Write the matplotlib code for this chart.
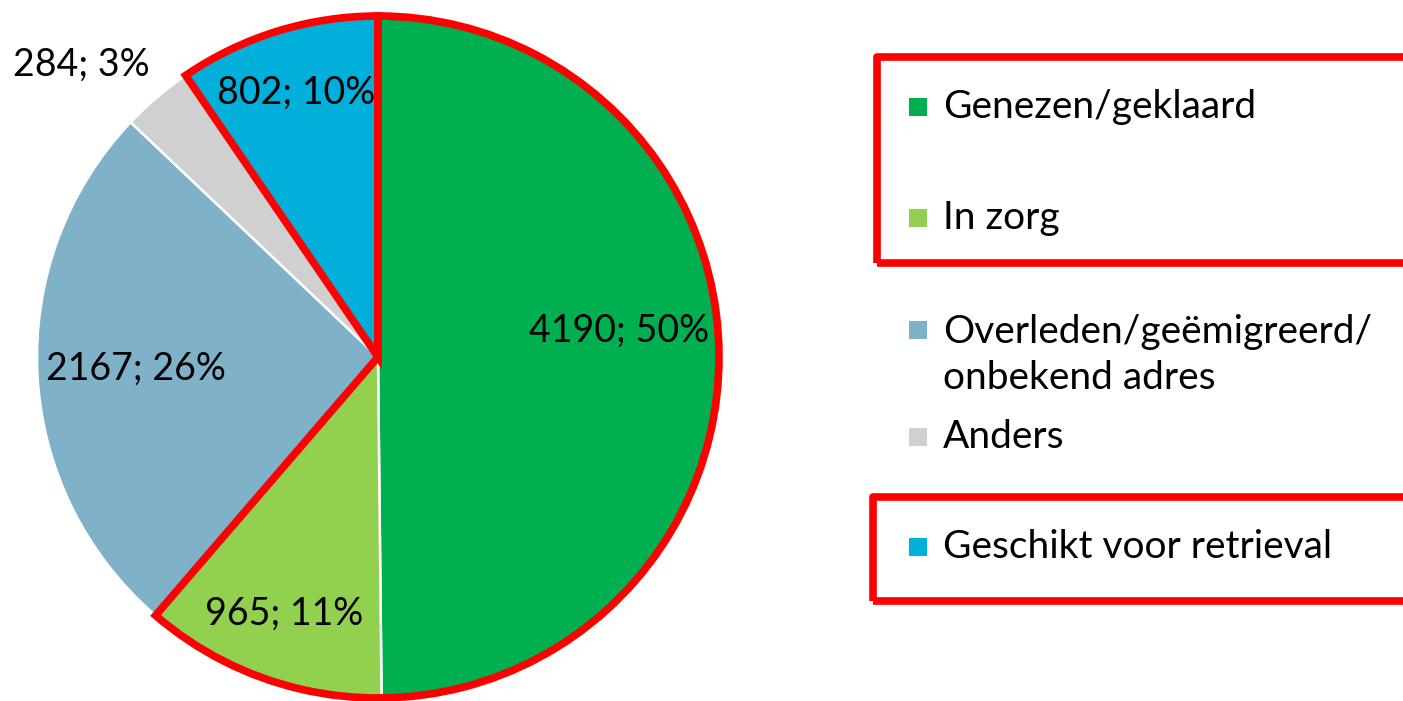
import matplotlib
matplotlib.use("Agg")
import matplotlib.pyplot as plt
from matplotlib.patches import Wedge, Rectangle
import numpy as np

plt.rcParams['font.family'] = ['Lato', 'DejaVu Sans']

# data
categorieen = ["Genezen/geklaard", "In zorg", "Overleden/geëmigreerd/\nonbekend adres",
               "Anders", "Geschikt voor retrieval"]
aantallen = [4190, 965, 2167, 284, 802]
percentages = ["50%", "11%", "26%", "3%", "10%"]
kleuren = ["#00B050", "#92D050", "#7FB2C8", "#D0D0D0", "#00B0DA"]

# label placement (distance from centre, extra angle) per slice
label_afstand = [0.71, 0.80, 0.71, 1.22, 0.81]
label_hoek = [6, 0, 0, 5, 0]

fig = plt.figure(figsize=(14.03, 7.01), dpi=100)
W, H = 1403, 701
R = 341
lim = 1.1
half = R * lim
cx, cy = 378, 701 - 357
ax = fig.add_axes([(cx - half) / W, (cy - half) / H, 2 * half / W, 2 * half / H])

wedges, _ = ax.pie(aantallen, colors=kleuren, startangle=90, counterclock=False,
                   radius=1, wedgeprops=dict(edgecolor='white', linewidth=1.8))
ax.set_xlim(-lim, lim)
ax.set_ylim(-lim, lim)
ax.set_aspect('equal')
ax.axis('off')
for w in wedges:
    w.set_clip_on(False)

# data labels
for w, n, p, d, extra in zip(wedges, aantallen, percentages, label_afstand, label_hoek):
    mid = np.deg2rad((w.theta1 + w.theta2) / 2 + extra)
    ax.text(d * np.cos(mid), d * np.sin(mid), f"{n}; {p}", ha='center', va='center',
            fontsize=27, color='black', clip_on=False)

# red outlines: Genezen + In zorg together, and Geschikt voor retrieval
groen = Wedge((0, 0), 1, wedges[1].theta1, wedges[0].theta2, fill=False,
              edgecolor='red', linewidth=5.5, joinstyle='miter', clip_on=False)
blauw = Wedge((0, 0), 1, wedges[4].theta1, wedges[4].theta2, fill=False,
              edgecolor='red', linewidth=5.5, joinstyle='miter', clip_on=False)
ax.add_patch(groen)
ax.add_patch(blauw)

# legend (drawn by hand, irregular spacing like the original)
leg_y = [107, 218, 355, 437, 547]
marker_y = [107, 218, 330, 437, 547]
for lab, kl, ty, my in zip(categorieen, kleuren, leg_y, marker_y):
    fig.add_artist(Rectangle(((909) / W, (H - my - 9) / H), 18 / W, 18 / H,
                             transform=fig.transFigure, facecolor=kl, edgecolor='none'))
    fig.text(943 / W, (H - ty) / H, lab, ha='left', va='center', fontsize=28,
             linespacing=1.32)

for x0, top, bot in [(877, 57, 263), (873, 497, 601)]:
    fig.add_artist(Rectangle((x0 / W, (H - bot) / H), (1430 - x0) / W, (bot - top) / H,
                             transform=fig.transFigure, fill=False, edgecolor='red',
                             linewidth=5.5, joinstyle='round'))

fig.savefig("out.png", dpi=100)
